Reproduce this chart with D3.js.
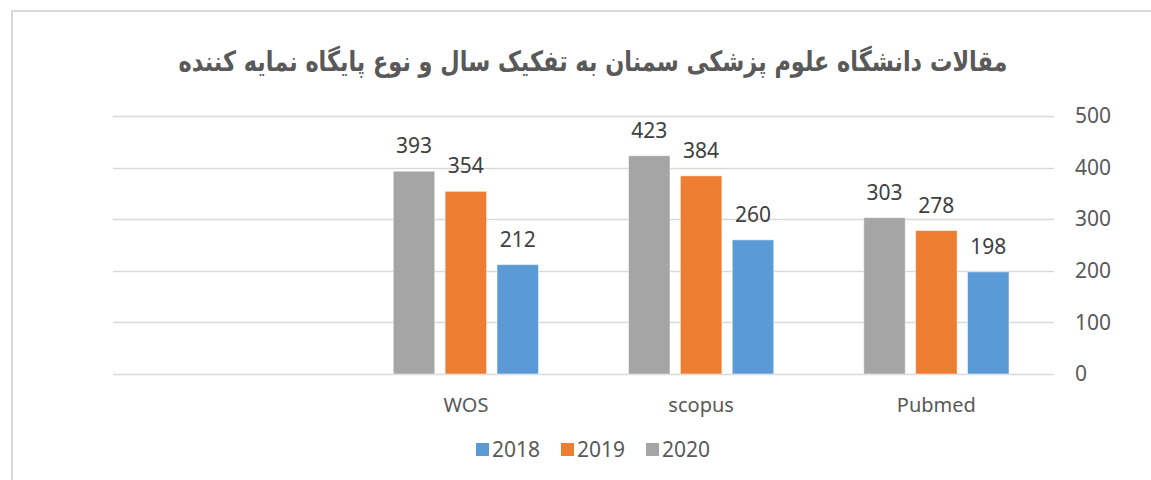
<!DOCTYPE html>
<html>
<head>
<meta charset="utf-8">
<script src="https://cdn.jsdelivr.net/npm/d3@7"></script>
<style>
  body { margin: 0; background: #fff; }
  svg { display: block; }
</style>
</head>
<body>
<div id="chart"></div>
<script>
// data (RTL chart: first category sits on the right)
const categories = ['Pubmed', 'scopus', 'WOS', ''];
const years = ['2018', '2019', '2020'];
const values2018 = [198, 260, 212, null];
const values2019 = [278, 384, 354, null];
const values2020 = [303, 423, 393, null];
const yTicks = [0, 100, 200, 300, 400, 500];
const titleText = 'مقالات دانشگاه علوم پزشکی سمنان به تفکیک سال و نوع پایگاه نمایه کننده';

const seriesValues = { '2018': values2018, '2019': values2019, '2020': values2020 };
const colors = { '2018': '#5b9bd5', '2019': '#ed7d31', '2020': '#a5a5a5' };

const width = 1151;
const height = 480;
const plot = { left: 113, right: 1054, top: 116, bottom: 374 };

const svg = d3.select('#chart').append('svg')
  .attr('width', width)
  .attr('height', height);

// outer frame
svg.append('rect')
  .attr('x', 12).attr('y', 11)
  .attr('width', width + 10).attr('height', height + 10)
  .attr('fill', '#fff')
  .attr('stroke', '#d9d9d9')
  .attr('stroke-width', 2);

const y = d3.scaleLinear().domain([0, 500]).range([plot.bottom, plot.top]);

// reversed range -> right-to-left categories
const x0 = d3.scaleBand().domain(categories).range([plot.right, plot.left]);
const groupPad = 45;
const x1 = d3.scaleBand().domain(years)
  .range([x0.bandwidth() - groupPad, groupPad])
  .paddingInner(0.2);

// gridlines
svg.append('g')
  .selectAll('line')
  .data(yTicks)
  .join('line')
  .attr('x1', plot.left).attr('x2', plot.right)
  .attr('y1', d => Math.round(y(d)) + 0.5)
  .attr('y2', d => Math.round(y(d)) + 0.5)
  .attr('stroke', '#d9d9d9')
  .attr('stroke-width', 1.5);

// y axis on the right
const yAxis = svg.append('g')
  .attr('transform', `translate(${plot.right},0)`)
  .call(d3.axisRight(y).tickValues(yTicks).tickSize(0).tickPadding(21));
yAxis.select('.domain').remove();
yAxis.selectAll('text')
  .attr('fill', '#595959')
  .style('font-family', '"Noto Sans", sans-serif')
  .style('font-size', '21px');

// bars
const rows = [];
categories.forEach((c, i) => {
  years.forEach(yr => {
    const v = seriesValues[yr][i];
    if (v != null) rows.push({ cat: c, year: yr, value: v });
  });
});

const bars = svg.append('g');
bars.selectAll('rect')
  .data(rows)
  .join('rect')
  .attr('x', d => x0(d.cat) + x1(d.year))
  .attr('y', d => y(d.value))
  .attr('width', x1.bandwidth())
  .attr('height', d => y(0) - y(d.value))
  .attr('fill', d => colors[d.year])
  .attr('stroke', '#fff')
  .attr('stroke-opacity', 0.5)
  .attr('stroke-width', 1);

// data labels
bars.selectAll('text')
  .data(rows)
  .join('text')
  .attr('x', d => x0(d.cat) + x1(d.year) + x1.bandwidth() / 2)
  .attr('y', d => y(d.value) - 18)
  .attr('text-anchor', 'middle')
  .attr('fill', '#404040')
  .style('font-family', '"Noto Sans", sans-serif')
  .style('font-size', '21px')
  .text(d => d.value);

// category labels
svg.append('g')
  .selectAll('text')
  .data(categories)
  .join('text')
  .attr('x', d => x0(d) + x0.bandwidth() / 2)
  .attr('y', 412)
  .attr('text-anchor', 'middle')
  .attr('fill', '#595959')
  .style('font-family', '"Noto Sans", sans-serif')
  .style('font-size', '20px')
  .text(d => d);

// legend
const legend = svg.append('g').attr('transform', 'translate(476,443)');
const legendStep = 85;
const items = legend.selectAll('g')
  .data(years)
  .join('g')
  .attr('transform', (d, i) => `translate(${i * legendStep},0)`);
items.append('rect')
  .attr('width', 13).attr('height', 13)
  .attr('fill', d => colors[d]);
items.append('text')
  .attr('x', 16).attr('y', 14)
  .attr('fill', '#595959')
  .style('font-family', '"Noto Sans", sans-serif')
  .style('font-size', '21px')
  .text(d => d);

// title (stretched vertically a bit, the original font is condensed)
const title = svg.append('text')
  .attr('transform', 'translate(593,71) scale(1,1.25)')
  .attr('text-anchor', 'middle')
  .attr('direction', 'rtl')
  .attr('fill', '#595959')
  .style('font-family', '"DejaVu Sans", sans-serif')
  .style('font-weight', 'bold')
  .style('font-size', '24px')
  .text(titleText);
const len = title.node().getComputedTextLength();
title.style('font-size', (24 * 830 / len).toFixed(1) + 'px');
</script>
</body>
</html>
